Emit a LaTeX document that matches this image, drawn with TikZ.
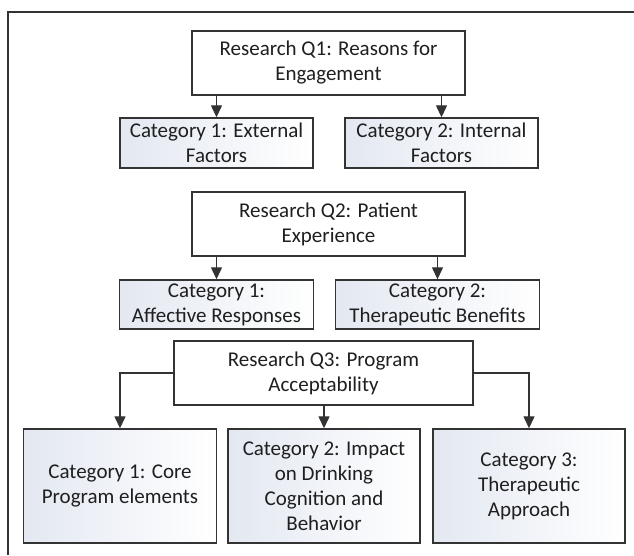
\documentclass[tikz,border=0pt]{standalone}
\usepackage{fontspec}
\setmainfont{Carlito}
\usetikzlibrary{arrows.meta}
\definecolor{edge}{HTML}{333333}
\definecolor{txt}{HTML}{1F1F1F}
\definecolor{catfill}{HTML}{E3E8F1}
\begin{document}
\begin{tikzpicture}[x=1pt,y=-1pt,
  every node/.style={font=\fontsize{21}{25}\selectfont, text=txt, align=center, inner sep=0pt},
  qbox/.style={draw=edge, line width=1.4pt, fill=white, minimum width=#1},
  catbox/.style={draw=edge, line width=1.4pt, left color=catfill, right color=white, minimum width=#1},
  arr/.style={draw=edge, line width=1.3pt, -{Triangle[length=12pt,width=11pt]}}]
\useasboundingbox (0,0) rectangle (634,555);
\draw[edge, line width=1.6pt] (8,555) -- (8,12) -- (634,12);

\node[qbox=273pt, minimum height=64pt] (q1) at (328.5,63) {Research Q1: Reasons for\\Engagement};
\node[catbox=193pt, minimum height=50pt] (c11) at (216.5,143) {Category 1: External\\Factors};
\node[catbox=193pt, minimum height=50pt] (c12) at (441.5,143) {Category 2: Internal\\Factors};

\node[qbox=273pt, minimum height=64pt] (q2) at (328.5,224) {Research Q2: Patient\\Experience};
\node[catbox=194pt, minimum height=49pt] (c21) at (216.5,304.5) {Category 1:\\Affective Responses};
\node[catbox=204pt, minimum height=49pt] (c22) at (437.5,304.5) {Category 2:\\Therapeutic Benefits};

\node[qbox=299pt, minimum height=64pt] (q3) at (323.5,373) {Research Q3: Program\\Acceptability};
\node[catbox=193pt, minimum height=114pt] (c31) at (120,486) {Category 1: Core\\Program elements};
\node[catbox=192pt, minimum height=114pt] (c32) at (324,486) {Category 2: Impact\\on Drinking\\Cognition and\\Behavior};
\node[catbox=192pt, minimum height=114pt] (c33) at (529,486) {Category 3:\\Therapeutic\\Approach};

\draw[arr] (q1.south -| c11.north) -- (c11.north);
\draw[arr] (q1.south -| c12.north) -- (c12.north);
\draw[arr] (q2.south -| c21.north) -- (c21.north);
\draw[arr] (q2.south -| c22.north) -- (c22.north);
\draw[arr] (q3.west) -| (c31.north);
\draw[arr] (q3.south -| c32.north) -- (c32.north);
\draw[arr] (q3.east) -| (c33.north);
\end{tikzpicture}
\end{document}
